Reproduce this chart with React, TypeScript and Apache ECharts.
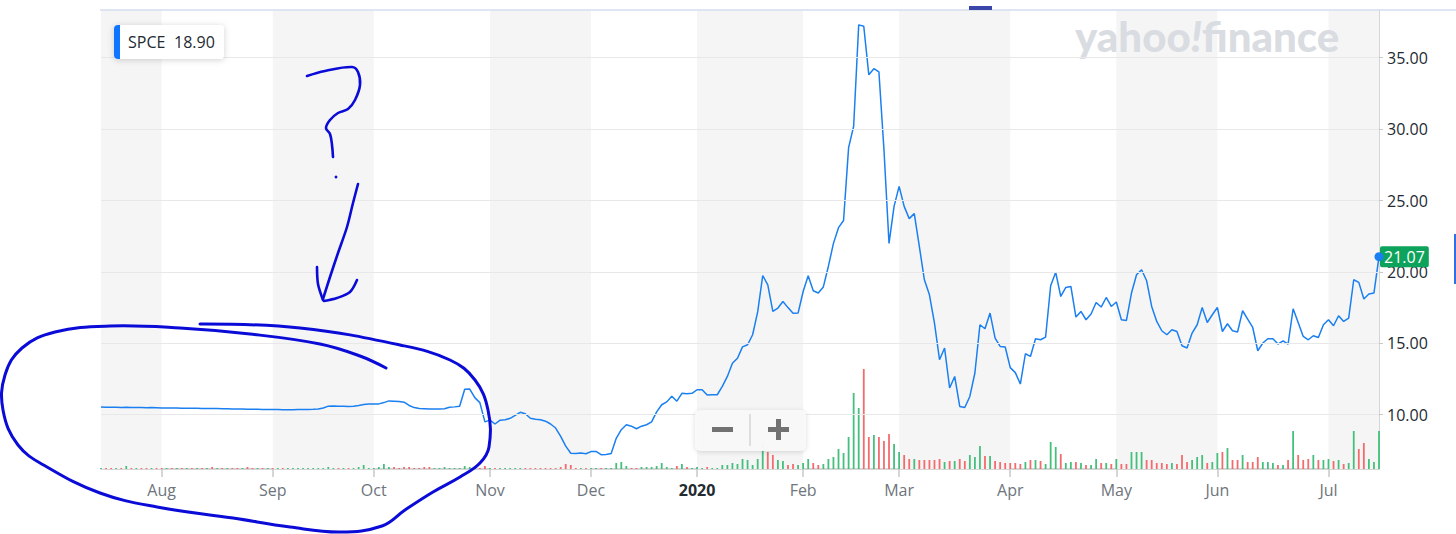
import React, { useEffect, useRef } from 'react';
import * as echarts from 'echarts';

// ---- Closing prices (USD), one per trading day, grouped by month ----
const pJul19 = [10.54, 10.53, 10.52, 10.53, 10.51, 10.52, 10.5, 10.51, 10.5, 10.49, 10.5, 10.49];
const pAug19 = [10.48, 10.48, 10.47, 10.47, 10.46, 10.46, 10.45, 10.45, 10.44, 10.44, 10.43, 10.43, 10.42, 10.42, 10.41, 10.4, 10.4, 10.39, 10.38, 10.38, 10.37, 10.37];
const pSep19 = [10.36, 10.36, 10.35, 10.35, 10.35, 10.36, 10.36, 10.37, 10.38, 10.4, 10.47, 10.6, 10.62, 10.6, 10.6, 10.58, 10.6, 10.65, 10.72, 10.75];
const pOct19 = [10.75, 10.76, 10.85, 10.97, 10.95, 10.93, 10.88, 10.65, 10.5, 10.43, 10.42, 10.4, 10.4, 10.4, 10.42, 10.52, 10.55, 10.6, 11.78, 11.8, 11.2, 10.85, 9.5];
const pNov19 = [9.62, 9.35, 9.62, 9.65, 9.75, 9.95, 10.17, 10.07, 9.75, 9.68, 9.65, 9.55, 9.35, 9.07, 8.48, 7.8, 7.3, 7.28, 7.32, 7.27];
const pDec19 = [7.42, 7.43, 7.2, 7.22, 7.28, 8.35, 8.95, 9.3, 9.2, 9.02, 9.2, 9.3, 9.5, 10.2, 10.7, 10.9, 11.3, 10.95, 11.5, 11.47, 11.5];
const pJan20 = [11.75, 11.75, 11.38, 11.4, 11.4, 11.98, 12.68, 13.6, 13.95, 14.75, 14.9, 15.6, 17.2, 19.75, 19.1, 17.23, 17.47, 17.93, 17.5, 17.1, 17.12];
const pFeb20 = [18.63, 19.73, 18.68, 18.52, 18.95, 20.4, 22.0, 23.1, 23.6, 28.7, 30.2, 37.3, 37.2, 33.8, 34.23, 34.0, 28.56, 22.0, 24.59];
const pMar20 = [25.99, 24.59, 23.73, 24.08, 21.79, 19.45, 18.4, 16.42, 13.85, 14.67, 11.87, 12.68, 10.58, 10.51, 11.28, 12.92, 16.3, 16.02, 17.12, 15.37, 14.78, 14.74];
const pApr20 = [13.3, 12.95, 12.15, 14.27, 14.08, 15.32, 15.25, 15.44, 19.03, 19.97, 18.28, 18.91, 18.98, 16.84, 17.23, 16.65, 17.05, 17.86, 17.54, 18.21, 17.58];
const pMay20 = [17.89, 16.65, 16.6, 18.52, 19.8, 20.15, 19.38, 17.58, 16.53, 15.88, 15.6, 15.95, 15.83, 14.83, 14.67, 15.72, 16.3, 17.51, 16.46, 17.0];
const pJun20 = [17.51, 15.83, 16.37, 15.88, 15.79, 17.28, 16.7, 16.11, 14.48, 15.02, 15.32, 15.32, 14.95, 15.18, 14.95, 17.42, 16.46, 15.48, 15.25, 15.53, 15.41, 16.3];
const pJul20 = [16.65, 16.23, 16.93, 16.53, 16.77, 19.45, 19.27, 18.1, 18.45, 18.52, 21.07];

// ---- Volume (relative units), one per trading day, grouped by month ----
const vJul19 = [1, 1, 1, 1, 1, 3, 1, 1, 1, 1, 1, 1];
const vAug19 = [1, 1, 1, 1, 1, 1, 1, 1, 1, 1, 2, 1, 1, 1, 1, 1, 1, 2, 1, 1, 1, 1];
const vSep19 = [1, 1, 1, 1, 1, 1, 1, 1, 1, 1, 1, 2, 1, 1, 1, 1, 1, 2, 4, 1];
const vOct19 = [1, 2, 5, 2, 2, 1, 2, 2, 1, 1, 2, 2, 1, 1, 2, 1, 1, 1, 3, 2, 2, 1, 3];
const vNov19 = [1, 1, 1, 1, 1, 1, 1, 1, 1, 1, 1, 1, 1, 1, 2, 5, 4, 1, 1, 1];
const vDec19 = [1, 1, 1, 1, 1, 6, 7, 3, 1, 1, 2, 2, 2, 3, 6, 2, 1, 3, 5, 2, 1];
const vJan20 = [2, 1, 2, 1, 1, 4, 4, 6, 5, 10, 9, 4, 10, 25, 17, 14, 9, 8, 4, 5, 4];
const vFeb20 = [6, 10, 6, 4, 5, 10, 12, 20, 16, 32, 76, 61, 100, 32, 34, 32, 28, 35, 25];
const vMar20 = [17, 14, 10, 10, 9, 9, 9, 9, 10, 7, 8, 8, 10, 8, 14, 12, 23, 13, 13, 8, 7, 6];
const vApr20 = [6, 6, 5, 7, 9, 9, 8, 5, 27, 22, 15, 6, 7, 7, 6, 4, 4, 10, 6, 6, 5];
const vMay20 = [10, 5, 5, 17, 17, 17, 9, 9, 6, 6, 5, 6, 5, 14, 7, 9, 12, 14, 6, 7];
const vJun20 = [16, 17, 21, 9, 9, 14, 7, 7, 12, 7, 7, 6, 4, 4, 9, 38, 14, 9, 10, 14, 9, 9];
const vJul20 = [10, 8, 9, 5, 6, 38, 20, 26, 10, 7, 38];

// ---- Calendar / labels ----
const START_DATE = [2019, 6, 16]; // 2019-07-16
const HOLIDAYS = ['2019-09-02', '2019-11-28', '2019-12-25', '2020-01-01', '2020-01-20', '2020-02-17', '2020-04-10', '2020-05-25', '2020-07-03'];
const MONTHS = ['Jan', 'Feb', 'Mar', 'Apr', 'May', 'Jun', 'Jul', 'Aug', 'Sep', 'Oct', 'Nov', 'Dec'];
const priceTicks = [10, 15, 20, 25, 30, 35];
const legendSymbol = 'SPCE';
const legendValue = '18.90';

const prices = [...pJul19, ...pAug19, ...pSep19, ...pOct19, ...pNov19, ...pDec19, ...pJan20, ...pFeb20, ...pMar20, ...pApr20, ...pMay20, ...pJun20, ...pJul20];
const volumes = [...vJul19, ...vAug19, ...vSep19, ...vOct19, ...vNov19, ...vDec19, ...vJan20, ...vFeb20, ...vMar20, ...vApr20, ...vMay20, ...vJun20, ...vJul20];

function tradingDays(n: number): string[] {
  const out: string[] = [];
  let t = Date.UTC(START_DATE[0], START_DATE[1], START_DATE[2]);
  while (out.length < n) {
    const d = new Date(t);
    const dow = d.getUTCDay();
    const s = d.toISOString().slice(0, 10);
    if (dow !== 0 && dow !== 6 && HOLIDAYS.indexOf(s) < 0) out.push(s);
    t += 86400000;
  }
  return out;
}

const LINE_BLUE = '#1a7ff0';
const INK = '#0b0bd8';

export default function App() {
  const ref = useRef<HTMLDivElement>(null);

  useEffect(() => {
    if (!ref.current) return;
    const chart = echarts.init(ref.current, null, { renderer: 'svg' });
    const dates = tradingDays(prices.length);
    const monthStart = new Set<number>();
    for (let i = 1; i < dates.length; i++) {
      if (dates[i].slice(5, 7) !== dates[i - 1].slice(5, 7)) monthStart.add(i);
    }
    const starts = [0, ...Array.from(monthStart)];
    const bands: any[] = [];
    for (let k = 0; k < starts.length; k += 2) {
      const a = starts[k];
      const b = k + 1 < starts.length ? starts[k + 1] : dates.length - 1;
      bands.push([{ xAxis: dates[a] }, { xAxis: dates[b] }]);
    }
    const last = prices.length - 1;

    const volData = volumes.map((v, i) => ({
      value: v,
      itemStyle: { color: i === 0 || prices[i] >= prices[i - 1] ? '#45bf7c' : '#f46b6d' },
    }));

    const ink = (points: number[][], lw = 2.6, smooth = 0.35) => ({
      type: 'polyline',
      z: 100,
      silent: true,
      shape: { points, smooth },
      style: { stroke: INK, lineWidth: lw, fill: null, lineCap: 'round', lineJoin: 'round' },
    });

    const option: any = {
      animation: false,
      backgroundColor: '#ffffff',
      textStyle: { fontFamily: 'Open Sans' },
      grid: { left: 101, right: 77, top: 10, bottom: 65, containLabel: false, outerBoundsMode: 'none' },
      xAxis: {
        type: 'category',
        data: dates,
        boundaryGap: false,
        axisLine: { lineStyle: { color: '#c8c8c8', width: 1.5 } },
        axisTick: {
          show: true,
          length: 8,
          interval: (idx: number) => monthStart.has(idx),
          lineStyle: { color: '#c8c8c8', width: 1.5 },
        },
        axisLabel: {
          interval: (idx: number) => monthStart.has(idx),
          margin: 13,
          color: '#6e757c',
          fontSize: 16,
          fontFamily: 'Open Sans',
          formatter: (v: string) => {
            const m = +v.slice(5, 7);
            if (m === 1) return '{y|' + v.slice(0, 4) + '}';
            return MONTHS[m - 1];
          },
          rich: { y: { fontWeight: 'bold', color: '#232a31', fontSize: 16, fontFamily: 'Open Sans' } },
        },
        splitLine: { show: false },
      },
      yAxis: [
        {
          type: 'value',
          position: 'right',
          min: 6.2,
          max: 38.34,
          axisLine: { show: true, lineStyle: { color: '#c8c8c8', width: 1.5 } },
          axisTick: { show: true, length: 4, customValues: priceTicks, lineStyle: { color: '#c8c8c8' } },
          axisLabel: {
            customValues: priceTicks,
            formatter: (v: number) => v.toFixed(2),
            color: '#232a31',
            fontSize: 16,
            margin: 8,
            fontFamily: 'Open Sans',
          },
          splitLine: { show: false },
        },
        { type: 'value', min: 0, max: 459, show: false, position: 'left' },
      ],
      series: [
        {
          type: 'line',
          data: prices,
          yAxisIndex: 0,
          z: 1,
          silent: true,
          symbol: 'none',
          lineStyle: { opacity: 0 },
          markArea: { silent: true, itemStyle: { color: '#f5f5f6' }, data: bands },
          markLine: {
            silent: true,
            symbol: ['none', 'none'],
            label: { show: false },
            lineStyle: { color: '#e8e8e8', width: 1.2, type: 'solid' },
            data: priceTicks.map((v) => ({ yAxis: v })),
          },
        },
        {
          type: 'bar',
          data: volData,
          yAxisIndex: 1,
          z: 2,
          silent: true,
          barWidth: 1.8,
        },
        {
          type: 'line',
          data: prices,
          yAxisIndex: 0,
          z: 3,
          silent: true,
          showSymbol: false,
          symbol: 'none',
          lineStyle: { color: LINE_BLUE, width: 1.5 },
          endLabel: {
            show: true,
            formatter: (p: any) => Number(p.value).toFixed(2),
            color: '#ffffff',
            backgroundColor: '#0ea35c',
            padding: [3, 4, 2, 4],
            borderRadius: 2,
            fontSize: 16,
            fontFamily: 'Open Sans',
            distance: 1,
          },
          markPoint: {
            silent: true,
            symbol: 'circle',
            symbolSize: 9,
            itemStyle: { color: LINE_BLUE },
            label: { show: false },
            data: [{ coord: [dates[last], prices[last]] }],
          },
        },
      ],
      graphic: [
        // top border
        { type: 'line', silent: true, z: 50, shape: { x1: 100, y1: 10, x2: 1456, y2: 10 }, style: { stroke: '#d5dcec', lineWidth: 1.5 } },
        { type: 'rect', silent: true, z: 51, shape: { x: 969, y: 6, width: 23, height: 4 }, style: { fill: '#3a47a8' } },
        { type: 'rect', silent: true, z: 51, shape: { x: 1454, y: 234, width: 2, height: 50 }, style: { fill: '#2f6fe0' } },
        // watermark
        {
          type: 'text',
          silent: true,
          z: 5,
          x: 1075,
          y: 15,
          style: {
            text: '{a|yahoo}{b|!}{a|finance}',
            rich: {
              a: { fontSize: 42, fontWeight: 900, fontFamily: 'Lato', fill: '#d9dce1', color: '#d9dce1' },
              b: { fontSize: 42, fontWeight: 900, fontStyle: 'italic', fontFamily: 'Lato', fill: '#d9dce1', color: '#d9dce1' },
            },
          },
        },
        // legend box
        { type: 'rect', silent: true, z: 60, shape: { x: 114, y: 25, width: 110, height: 34, r: 4 }, style: { fill: '#ffffff', shadowBlur: 6, shadowColor: 'rgba(0,0,0,0.18)', shadowOffsetY: 1 } },
        { type: 'rect', silent: true, z: 61, shape: { x: 114, y: 25, width: 6, height: 34, r: [4, 0, 0, 4] }, style: { fill: '#0f74ff' } },
        { type: 'text', silent: true, z: 62, x: 128, y: 42, style: { text: legendSymbol, fill: '#232a31', fontSize: 16, fontFamily: 'Open Sans', verticalAlign: 'middle' } },
        { type: 'text', silent: true, z: 62, x: 174, y: 42, style: { text: legendValue, fill: '#232a31', fontSize: 16, fontFamily: 'Open Sans', verticalAlign: 'middle' } },
        // zoom control
        { type: 'rect', silent: true, z: 60, shape: { x: 695, y: 410, width: 111, height: 41, r: 6 }, style: { fill: 'rgba(249,249,249,0.96)', shadowBlur: 5, shadowColor: 'rgba(0,0,0,0.15)', shadowOffsetY: 1 } },
        { type: 'rect', silent: true, z: 61, shape: { x: 712, y: 427, width: 21, height: 5 }, style: { fill: '#727272' } },
        { type: 'line', silent: true, z: 61, shape: { x1: 750, y1: 414, x2: 750, y2: 446 }, style: { stroke: '#d6d6d6', lineWidth: 1.5 } },
        { type: 'rect', silent: true, z: 61, shape: { x: 768, y: 427, width: 21, height: 5 }, style: { fill: '#727272' } },
        { type: 'rect', silent: true, z: 61, shape: { x: 776, y: 419, width: 5, height: 21 }, style: { fill: '#727272' } },
        // hand-drawn annotations
        ink([[200, 324], [300, 328], [400, 345], [450, 360], [475, 380], [488, 410], [489, 447], [480, 463], [460, 477], [433, 492], [405, 510], [382, 526], [340, 532], [290, 527], [233, 518], [157, 507], [100, 493], [47, 467], [18, 445], [3, 410], [5, 375], [22, 348], [55, 332], [110, 326], [180, 328], [250, 334], [320, 344], [360, 356], [386, 368]], 3, 0.4),
        ink([[307, 76], [325, 71], [352, 67], [358, 72], [360, 85], [355, 100], [348, 109], [338, 113], [330, 120], [326, 128], [330, 134], [332, 145], [333, 157]], 2.6, 0.4),
        { type: 'circle', silent: true, z: 100, shape: { cx: 336, cy: 177, r: 1.4 }, style: { fill: INK } },
        ink([[358, 184], [353, 203], [347, 227], [338, 253], [330, 277], [323, 299]], 2.6, 0.3),
        ink([[317, 267], [318, 284], [323, 300]], 2.6, 0.3),
        ink([[324, 301], [337, 298], [350, 292], [357, 280]], 2.6, 0.3),
      ],
    };

    chart.setOption(option);
    return () => chart.dispose();
  }, []);

  return (
    <div
      ref={ref}
      style={{ position: 'fixed', left: 0, top: 0, width: 1456, height: 534, background: '#ffffff' }}
    />
  );
}
